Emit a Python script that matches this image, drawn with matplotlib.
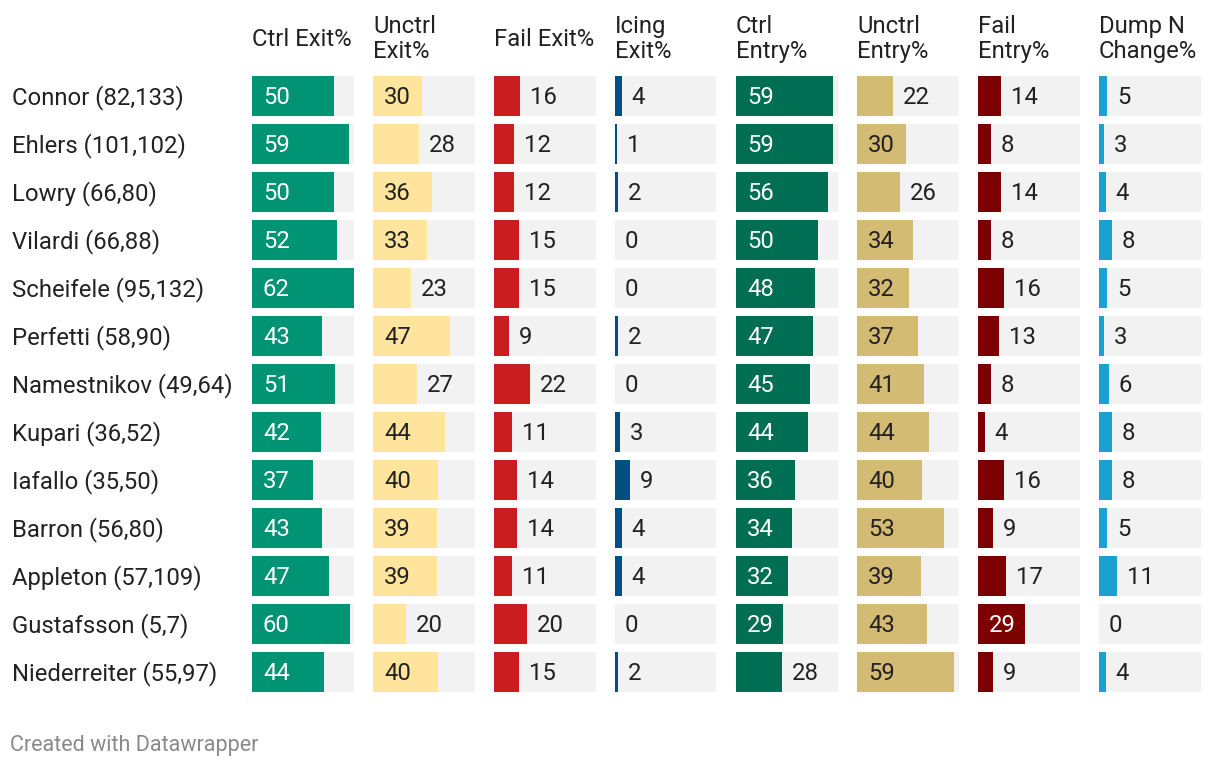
import matplotlib
matplotlib.use("Agg")
import matplotlib.pyplot as plt

plt.rcParams["font.family"] = ["Roboto", "DejaVu Sans"]

players = ["Connor (82,133)", "Ehlers (101,102)", "Lowry (66,80)", "Vilardi (66,88)",
           "Scheifele (95,132)", "Perfetti (58,90)", "Namestnikov (49,64)", "Kupari (36,52)",
           "Iafallo (35,50)", "Barron (56,80)", "Appleton (57,109)", "Gustafsson (5,7)",
           "Niederreiter (55,97)"]

headers = ["Ctrl Exit%", "Unctrl\nExit%", "Fail Exit%", "Icing\nExit%",
           "Ctrl\nEntry%", "Unctrl\nEntry%", "Fail\nEntry%", "Dump N\nChange%"]

ctrl_exit = [50, 59, 50, 52, 62, 43, 51, 42, 37, 43, 47, 60, 44]
unctrl_exit = [30, 28, 36, 33, 23, 47, 27, 44, 40, 39, 39, 20, 40]
fail_exit = [16, 12, 12, 15, 15, 9, 22, 11, 14, 14, 11, 20, 15]
icing_exit = [4, 1, 2, 0, 0, 2, 0, 3, 9, 4, 4, 0, 2]
ctrl_entry = [59, 59, 56, 50, 48, 47, 45, 44, 36, 34, 32, 29, 28]
unctrl_entry = [22, 30, 26, 34, 32, 37, 41, 44, 40, 53, 39, 43, 59]
fail_entry = [14, 8, 14, 8, 16, 13, 8, 4, 16, 9, 17, 29, 9]
dump_change = [5, 3, 4, 8, 5, 3, 6, 8, 8, 5, 11, 0, 4]

columns = [ctrl_exit, unctrl_exit, fail_exit, icing_exit,
           ctrl_entry, unctrl_entry, fail_entry, dump_change]
colors = ["#009374", "#fee49c", "#c91d1f", "#00507f",
          "#006e52", "#d4bb73", "#7d0000", "#19a2d1"]
light = [False, True, False, False, False, True, False, False]

W, H = 1220, 768
fig = plt.figure(figsize=(W / 100, H / 100), dpi=100)
fig.patch.set_facecolor("white")

vmax = 62
n = len(players)
top, row_h = 72, 48
dark = "#222222"
fs = 17.2

for i, (vals, col) in enumerate(zip(columns, colors)):
    left = 252 + i * 121.0
    width = 101.5
    ax = fig.add_axes([left / W, 1 - (top + n * row_h) / H, width / W, n * row_h / H])
    ax.set_xlim(0, vmax)
    ax.set_ylim(n - 0.5, -0.5)
    ax.axis("off")
    ys = list(range(n))
    ax.barh(ys, [vmax] * n, height=40 / 48, color="#f2f2f2", linewidth=0)
    ax.barh(ys, vals, height=40 / 48, color=col, linewidth=0)
    for y, v in zip(ys, vals):
        if v >= 29:
            ax.annotate(str(v), (0, y), xytext=(11, -2), textcoords="offset pixels",
                        va="center", ha="left", fontsize=fs,
                        color=dark if light[i] else "white")
        else:
            ax.annotate(str(v), (v, y), xytext=(10, -2), textcoords="offset pixels",
                        va="center", ha="left", fontsize=fs, color=dark)
    fig.text(left / W, 1 - 39 / H, headers[i], ha="left", va="center",
             fontsize=fs, color=dark, linespacing=1.15)

for j, name in enumerate(players):
    fig.text(12 / W, 1 - (top + row_h * j + row_h / 2 + 2) / H, name,
             ha="left", va="center", fontsize=fs, color=dark)

fig.text(10 / W, 1 - 746 / H, "Created with Datawrapper", ha="left", va="center",
         fontsize=15.5, color="#8a8a8a")

fig.savefig("out.png", dpi=100, facecolor="white")
